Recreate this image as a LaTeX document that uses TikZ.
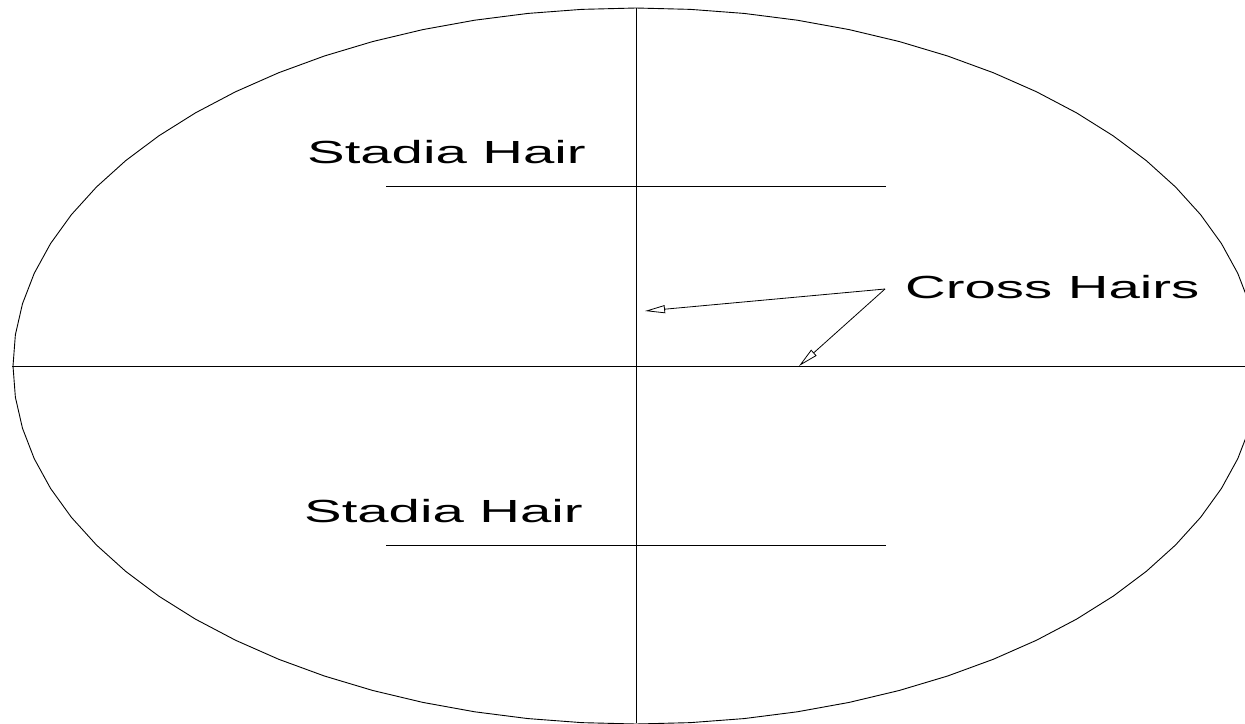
\documentclass[tikz,border=0pt]{standalone}
\usepackage{fontspec}
\setmainfont{Liberation Sans}
\usepackage{graphicx}
\usetikzlibrary{arrows.meta}
\tikzset{
  hair/.style={line width=0.9pt, black},
  leader/.style={line width=0.8pt, black, -{Triangle[open, length=20pt, width=8pt]}},
  lbl/.style={inner sep=0pt, anchor=base west, font=\fontsize{32}{38}\selectfont},
}
\newcommand{\wide}[1]{\scalebox{1.76}[1]{#1}}
\begin{document}
\begin{tikzpicture}[x=1pt, y=-1pt]
\useasboundingbox (0,0) rectangle (1245,723);
\clip (0,0) rectangle (1245,723);
% eyepiece field (ellipse, drawn as polygon)
\draw[hair] plot[domain=0:360, samples=73] ({636+623*cos(\x)}, {366+358*sin(\x)}) -- cycle;
% cross hairs
\coordinate (vt) at (636,8);
\coordinate (vb) at (636,723);
\coordinate (hl) at (12,366);
\coordinate (hr) at (1245,366);
\draw[hair] (vt) -- (vb);
\draw[hair] (hl) -- (hr);
% stadia hairs
\coordinate (s1l) at (386,186);
\coordinate (s1r) at (886,186);
\coordinate (s2l) at (386,545);
\coordinate (s2r) at (886,545);
\draw[hair] (s1l) -- (s1r);
\draw[hair] (s2l) -- (s2r);
% labels
\node[lbl] (st1) at (307,163) {\wide{Stadia Hair}};
\node[lbl] (st2) at (304,522) {\wide{Stadia Hair}};
\node[lbl] (ch) at (905,298) {\wide{Cross Hairs}};
% leaders
\coordinate (j) at (885,289);
\coordinate (a1) at (645,311);
\coordinate (a2) at (799,366);
\draw[leader] (j) -- (a1);
\draw[leader] (j) -- (a2);
\end{tikzpicture}
\end{document}
